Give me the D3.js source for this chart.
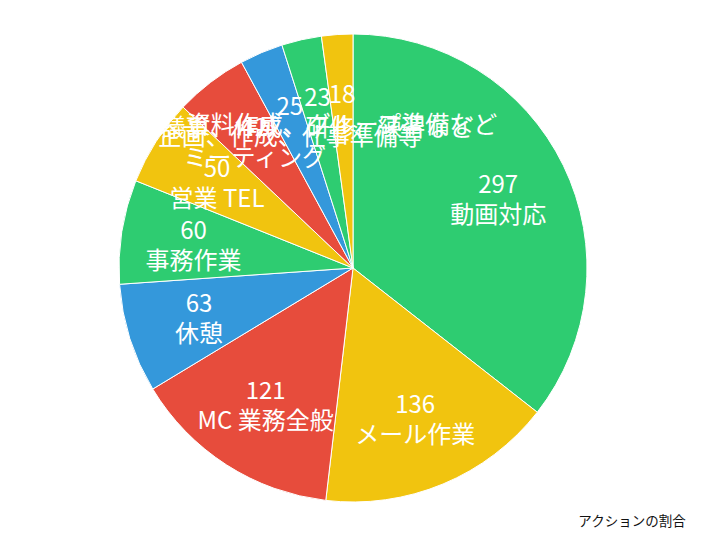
<!DOCTYPE html>
<html>
<head>
<meta charset="utf-8">
<script src="https://cdn.jsdelivr.net/npm/d3@7"></script>
<style>
  html, body { margin: 0; padding: 0; background: #fff; }
  svg { display: block; }
  text { font-family: "Noto Sans CJK JP", "Noto Sans", sans-serif; }
</style>
</head>
<body>
<div id="chart"></div>
<script>
// アクションの割合 — pie, clockwise from 12 o'clock
var categories = [
  "動画対応", "メール作業", "MC 業務全般", "休憩", "事務作業",
  "営業 TEL", "ミーティング", "企画、作成、仕事準備等",
  "議事、作成、研修、練習など", "資料作成、グループ準備など"
];
var values = [297, 136, 121, 63, 60, 50, 42, 25, 23, 18];
var palette = ["#2ecc71", "#f1c40f", "#e74c3c", "#3498db"];
var title = "アクションの割合";

var W = 706, H = 540;
var cx = 353, cy = 268, R = 234;

var svg = d3.select("#chart").append("svg")
  .attr("width", W)
  .attr("height", H);

var pie = d3.pie().sort(null).value(function (d) { return d; });
var arcs = pie(values);

var arc = d3.arc().innerRadius(0).outerRadius(R);
var labelArc = d3.arc().innerRadius(R * 0.69).outerRadius(R * 0.69);

var color = d3.scaleOrdinal()
  .domain(d3.range(values.length))
  .range(palette);

var g = svg.append("g").attr("transform", "translate(" + cx + "," + cy + ")");

g.selectAll("path")
  .data(arcs)
  .join("path")
  .attr("d", arc)
  .attr("fill", function (d) { return color(d.index); })
  .attr("stroke", "#fff")
  .attr("stroke-width", 1)
  .attr("stroke-linejoin", "round");

// value on top, category below, centred on the label point
var labels = g.selectAll("text.lbl")
  .data(arcs)
  .join("text")
  .attr("class", "lbl")
  .attr("transform", function (d) { return "translate(" + labelArc.centroid(d) + ")"; })
  .attr("text-anchor", "middle")
  .attr("fill", "#fff")
  .style("font-size", "24px");

labels.append("tspan")
  .attr("x", 0)
  .attr("dy", "-0.18em")
  .text(function (d) { return d.data; });

labels.append("tspan")
  .attr("x", 0)
  .attr("dy", "1.25em")
  .text(function (d) { return categories[d.index]; });

svg.append("text")
  .attr("x", 632)
  .attr("y", 526)
  .attr("text-anchor", "middle")
  .attr("fill", "#111")
  .style("font-size", "13.5px")
  .text(title);
</script>
</body>
</html>
